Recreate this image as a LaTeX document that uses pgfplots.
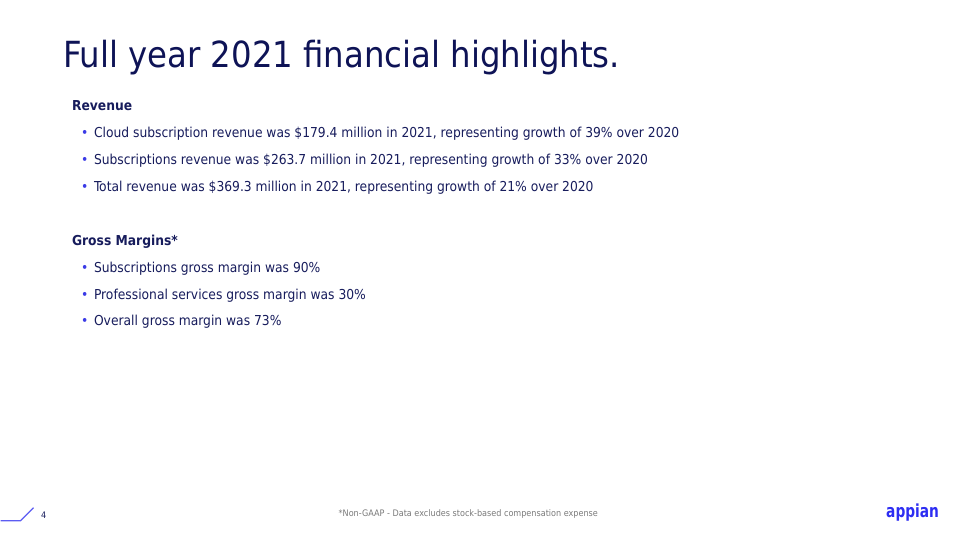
\documentclass[border=0pt]{standalone}
\usepackage{pgfplots}
\pgfplotsset{compat=1.18}
\usepackage{fontspec}
\setmainfont{DejaVu Sans Condensed}
\definecolor{titlenavy}{HTML}{0E1356}
\definecolor{textnavy}{HTML}{171C5C}
\definecolor{bulletblue}{HTML}{3B3BE6}
\definecolor{linepurple}{HTML}{5C5CF2}
\definecolor{logoblue}{HTML}{2D2DF2}
\definecolor{footgrey}{HTML}{7A7A7A}
\tikzset{
 body/.style={anchor=base west,text=textnavy,font=\fontsize{13.7}{16}\selectfont},
 bul/.style={anchor=base west,text=bulletblue,font=\fontsize{13.7}{16}\selectfont},
 head/.style={anchor=base west,text=textnavy,font=\fontsize{13.7}{16}\selectfont\bfseries}}
\begin{document}
\begin{tikzpicture}
\begin{axis}[
 width=960pt,height=540pt,scale only axis,
 xmin=0,xmax=960,ymin=0,ymax=540,y dir=reverse,
 axis lines=none,clip=false]
% keep the whole slide as the page
\path (rel axis cs:0,0) rectangle (rel axis cs:1,1);
% decorative footer line
\addplot[linepurple,line width=1.1pt] coordinates {(0,521) (20,521) (33,508)};
\node[anchor=base west,text=titlenavy,font=\fontsize{36}{42}\selectfont] at (axis cs:59,68) {Full year 2021 financial highlights.};
\node[head] at (axis cs:68,111) {Revenue};
\node[bul] at (axis cs:77,138) {•};
\node[body] at (axis cs:90,138) {Cloud subscription revenue was \$179.4 million in 2021, representing growth of 39\% over 2020};
\node[bul] at (axis cs:77,165) {•};
\node[body] at (axis cs:90,165) {Subscriptions revenue was \$263.7 million in 2021, representing growth of 33\% over 2020};
\node[bul] at (axis cs:77,192) {•};
\node[body] at (axis cs:90,192) {Total revenue was \$369.3 million in 2021, representing growth of 21\% over 2020};
\node[head] at (axis cs:68,246) {Gross Margins*};
\node[bul] at (axis cs:77,273) {•};
\node[body] at (axis cs:90,273) {Subscriptions gross margin was 90\%};
\node[bul] at (axis cs:77,300) {•};
\node[body] at (axis cs:90,300) {Professional services gross margin was 30\%};
\node[bul] at (axis cs:77,326) {•};
\node[body] at (axis cs:90,326) {Overall gross margin was 73\%};
\node[anchor=base west,text=textnavy,font=\fontsize{9}{11}\selectfont] at (axis cs:37,519) {4};
\node[anchor=base,text=footgrey,font=\fontsize{9}{11}\selectfont] at (axis cs:468,517) {*Non-GAAP - Data excludes stock-based compensation expense};
\node[anchor=base west,text=logoblue,font=\fontsize{18}{22}\selectfont\bfseries,inner sep=0pt,xscale=0.85] at (axis cs:886,518) {appian};
\end{axis}
\end{tikzpicture}
\end{document}
